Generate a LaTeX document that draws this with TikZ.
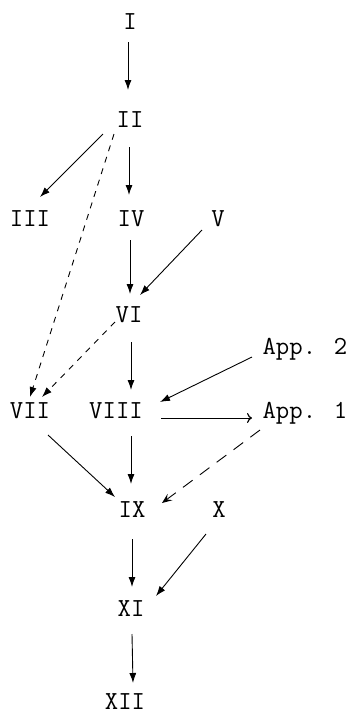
\documentclass[tikz,border=0pt]{standalone}
\usetikzlibrary{arrows.meta}
\begin{document}
\begin{tikzpicture}[x=1pt,y=-1pt,
  lab/.style={font=\ttfamily\fontsize{26}{26}\selectfont, inner sep=0pt, text height=15pt, text depth=0pt, anchor=center},
  arr/.style={line width=0.9pt, -{Latex[length=10pt,width=7pt]}},
  openarr/.style={line width=0.9pt, -{To[length=5pt,width=10pt,line width=1.2pt]}},
  shortdash/.style={dash pattern=on 6pt off 6pt},
  longdash/.style={dash pattern=on 12pt off 9pt}]
\useasboundingbox (0,0) rectangle (352,716);
\node[lab] (I) at (130,22) {I};
\node[lab] (II) at (130,120) {II};
\node[lab] (III) at (30,219) {III};
\node[lab] (IV) at (131,219) {IV};
\node[lab] (V) at (218,219) {V};
\node[lab] (VI) at (129,315) {VI};
\node[lab] (A2) at (305,347) {App. 2};
\node[lab] (VII) at (30,411) {VII};
\node[lab] (VIII) at (116,411) {VIII};
\node[lab] (A1) at (305,411) {App. 1};
\node[lab] (IX) at (132,510) {IX};
\node[lab] (X) at (219,510) {X};
\node[lab] (XI) at (131,609) {XI};
\node[lab] (XII) at (125,702) {XII};

\draw[arr] ([shift={(-2,20)}]I.center) -- ([shift={(-2,-30)}]II.center);
\draw[arr] ([shift={(-27,14)}]II.center) -- ([shift={(10,-22)}]III.center);
\draw[arr] ([shift={(-1,27)}]II.center) -- ([shift={(-2,-24)}]IV.center);
\draw[arr,shortdash] ([shift={(-16,14)}]II.center) -- ([shift={(0,-14)}]VII.center);
\draw[arr] ([shift={(-16,11)}]V.center) -- ([shift={(11,-20)}]VI.center);
\draw[arr] ([shift={(-1,21)}]IV.center) -- ([shift={(1,-21)}]VI.center);
\draw[arr,shortdash] ([shift={(-14,7)}]VI.center) -- ([shift={(12,-14)}]VII.center);
\draw[arr] ([shift={(2,27)}]VI.center) -- ([shift={(15,-21)}]VIII.center);
\draw[arr] ([shift={(-53,10)}]A2.center) -- ([shift={(44,-9)}]VIII.center);
\draw[openarr] ([shift={(45,7)}]VIII.center) -- ([shift={(-53,7)}]A1.center);
\draw[longdash,line width=0.9pt,-{Stealth[length=10pt,width=8pt,inset=4pt]}] ([shift={(-45,19)}]A1.center) -- ([shift={(30,-7)}]IX.center);
\draw[arr] ([shift={(18,24)}]VII.center) -- ([shift={(-17,-13)}]IX.center);
\draw[arr] ([shift={(15,25)}]VIII.center) -- ([shift={(-1,-26)}]IX.center);
\draw[arr] ([shift={(0,29)}]IX.center) -- ([shift={(1,-22)}]XI.center);
\draw[arr] ([shift={(-13,24)}]X.center) -- ([shift={(25,-13)}]XI.center);
\draw[arr] ([shift={(1,25)}]XI.center) -- ([shift={(8,-19)}]XII.center);
\end{tikzpicture}
\end{document}
